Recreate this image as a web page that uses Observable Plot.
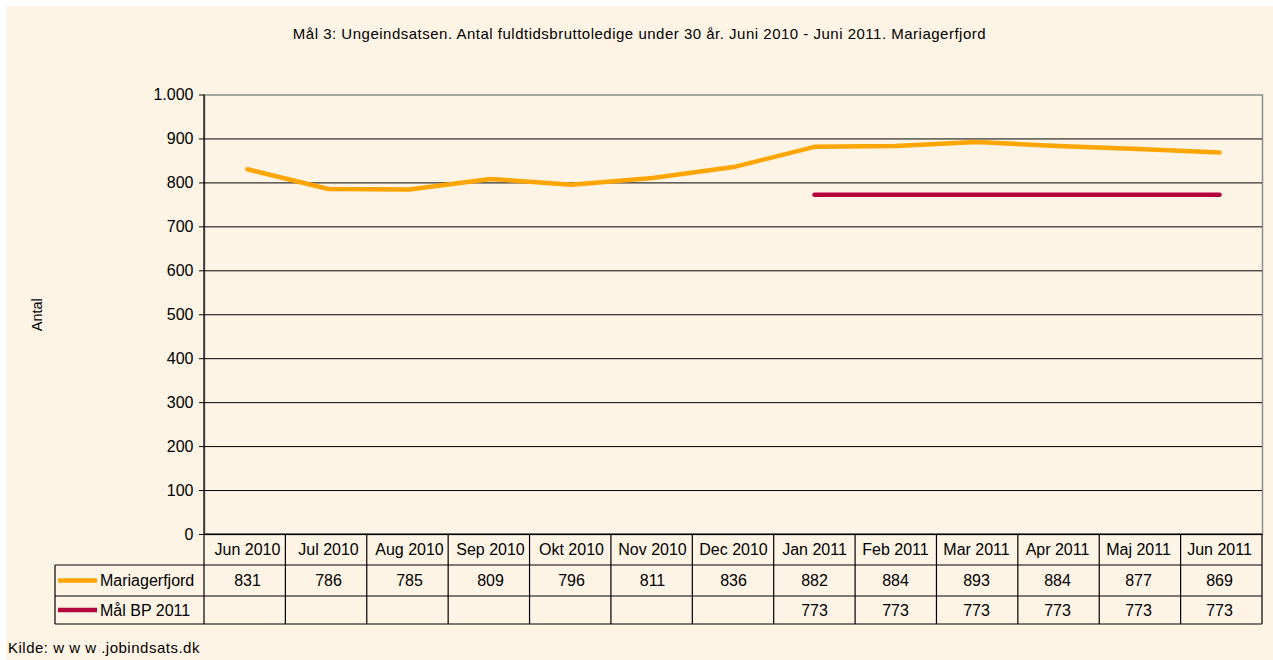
<!DOCTYPE html>
<html>
<head>
<meta charset="utf-8">
<script src="https://cdn.jsdelivr.net/npm/d3@7"></script>
<script src="https://cdn.jsdelivr.net/npm/@observablehq/plot@0.6"></script>
<style>
  body { margin: 0; background: #ffffff; font-family: Arial, "Liberation Sans", sans-serif; }
  #wrap { position: relative; width: 1273px; height: 660px; overflow: hidden; }
  #bg { position: absolute; left: 6px; top: 6px; right: 0; bottom: 0; background: #FEF4E6; }
  #title { position: relative; height: 66px; box-sizing: border-box; padding-top: 25px; padding-left: 6px;
           text-align: center; font-size: 15px; letter-spacing: 0.5px; line-height: 17px; color: #000; }
  #chart { position: relative; }
  #footer { position: absolute; left: 8px; top: 639px; font-size: 15px; letter-spacing: 0.5px; line-height: 17px; color: #000; }
</style>
</head>
<body>
<div id="wrap">
  <div id="bg"></div>
  <div id="title">Mål 3: Ungeindsatsen. Antal fuldtidsbruttoledige under 30 år. Juni 2010 - Juni 2011. Mariagerfjord</div>
  <div id="chart"></div>
  <div id="footer">Kilde: w w w .jobindsats.dk</div>
</div>
<script>
const months = ["Jun 2010", "Jul 2010", "Aug 2010", "Sep 2010", "Okt 2010", "Nov 2010", "Dec 2010",
                "Jan 2011", "Feb 2011", "Mar 2011", "Apr 2011", "Maj 2011", "Jun 2011"];
const mariagerfjord = [831, 786, 785, 809, 796, 811, 836, 882, 884, 893, 884, 877, 869];
const goal = [null, null, null, null, null, null, null, 773, 773, 773, 773, 773, 773];
const yTicks = [0, 100, 200, 300, 400, 500, 600, 700, 800, 900, 1000];
const seriesNames = ["Mariagerfjord", "Mål BP 2011"];
const seriesColors = ["#FFA500", "#B4003A"];
const yLabel = "Antal";

const FONT = 'Arial, "Liberation Sans", sans-serif';
const daFormat = d3.formatLocale({decimal: ",", thousands: ".", grouping: [3], currency: ["", ""]}).format(",");

const idx = d3.range(months.length);
const goalIdx = idx.filter(i => goal[i] != null);

const W = 1273, H = 594;
const plot = Plot.plot({
  width: W, height: H,
  marginTop: 28.5, marginBottom: 126, marginLeft: 204, marginRight: 11,
  style: {background: "transparent", fontFamily: FONT, fontSize: "16px", color: "#000", overflow: "visible"},
  x: {type: "point", domain: months, padding: 0.5, align: 0.5, axis: null},
  y: {domain: [0, 1000], axis: null},
  marks: [
    Plot.frame({stroke: "#8c8c8c", strokeWidth: 1.5}),
    Plot.ruleY(yTicks.filter(d => d > 0 && d < 1000), {stroke: "#000", strokeWidth: 1}),
    Plot.ruleY([0], {stroke: "#000", strokeWidth: 1.2}),
    Plot.axisY({ticks: yTicks, tickSize: 5, tickPadding: 6, tickFormat: d => daFormat(d),
                fontSize: 16, stroke: "#000", fill: "#000", label: null}),
    Plot.line(idx, {x: i => months[i], y: i => mariagerfjord[i], stroke: seriesColors[0], strokeWidth: 4.5}),
    Plot.line(goalIdx, {x: i => months[i], y: i => goal[i], stroke: seriesColors[1], strokeWidth: 4.5}),
    Plot.text(months, {x: d => d, text: d => d, frameAnchor: "bottom", lineAnchor: "middle", textAnchor: "middle",
                       dy: 15.5, fontSize: 16, fill: "#000"}),
    Plot.text(idx, {x: i => months[i], text: i => String(mariagerfjord[i]), frameAnchor: "bottom",
                    lineAnchor: "middle", textAnchor: "middle", dy: 46.5, fontSize: 16, fill: "#000"}),
    Plot.text(goalIdx, {x: i => months[i], text: i => String(goal[i]), frameAnchor: "bottom",
                        lineAnchor: "middle", textAnchor: "middle", dy: 76, fontSize: 16, fill: "#000"}),
    Plot.text([yLabel], {text: d => d, frameAnchor: "left", dx: -167, rotate: -90,
                         textAnchor: "middle", lineAnchor: "middle", fontSize: 14.5, fill: "#000"})
  ]
});

// Data table grid and legend, positioned from Plot's own scales
const svg = d3.select(plot);
const xs = plot.scale("x");
const ys = plot.scale("y");
const r0 = xs.range[0], r1 = xs.range[1];
const step = (r1 - r0) / months.length;
const yb = ys.apply(0), yt = ys.apply(1000);
const rows = [yb, yb + 31, yb + 62, yb + 90];
const tableLeft = 55;

const g = svg.append("g").attr("stroke", "#000").attr("stroke-width", 1.2).attr("fill", "none");
// horizontal lines
g.append("line").attr("x1", r0).attr("x2", r1).attr("y1", rows[0]).attr("y2", rows[0]);
for (let k = 1; k < rows.length; k++) {
  g.append("line").attr("x1", tableLeft).attr("x2", r1).attr("y1", rows[k]).attr("y2", rows[k]);
}
// vertical lines
for (let k = 1; k <= months.length; k++) {
  const x = r0 + k * step;
  g.append("line").attr("x1", x).attr("x2", x).attr("y1", rows[0]).attr("y2", rows[3]);
}
g.append("line").attr("x1", r0).attr("x2", r0).attr("y1", yt).attr("y2", rows[3]);
g.append("line").attr("x1", tableLeft).attr("x2", tableLeft).attr("y1", rows[1]).attr("y2", rows[3]);

// legend swatches and names
seriesNames.forEach((name, s) => {
  const cy = (rows[s + 1] + rows[s + 2]) / 2;
  svg.append("line").attr("x1", 58).attr("x2", 97).attr("y1", cy).attr("y2", cy)
    .attr("stroke", seriesColors[s]).attr("stroke-width", 4.5);
  svg.append("text").attr("x", 100).attr("y", cy).attr("dy", "0.35em")
    .attr("text-anchor", "start")
    .attr("font-family", FONT).attr("font-size", 16).attr("fill", "#000").text(name);
});

document.getElementById("chart").appendChild(plot);
</script>
</body>
</html>
